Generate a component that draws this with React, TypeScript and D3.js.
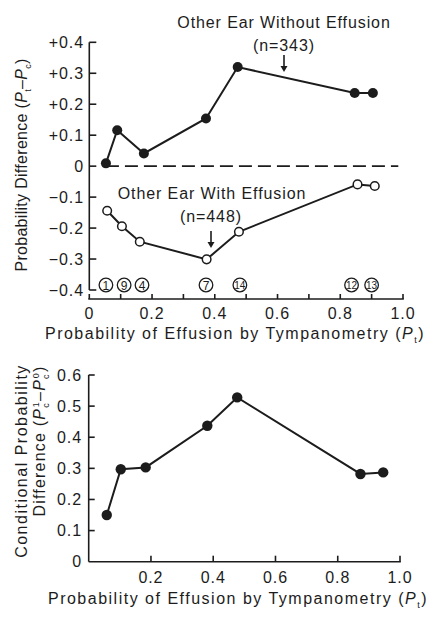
import React from 'react';
import * as d3 from 'd3';

// Top panel: probability difference (Pt - Pc) by tympanometry probability
const withoutX = [0.053, 0.089, 0.174, 0.372, 0.473, 0.846, 0.904];
const withoutY = [0.009, 0.116, 0.041, 0.154, 0.32, 0.236, 0.236];
const withX = [0.057, 0.104, 0.161, 0.374, 0.477, 0.855, 0.91];
const withY = [-0.144, -0.194, -0.244, -0.301, -0.212, -0.059, -0.064];

// Study numbers circled along the bottom of the top panel
const studyIds = ['1', '9', '4', '7', '14', '12', '13'];
const studyX = [0.053, 0.111, 0.168, 0.372, 0.48, 0.836, 0.9];

// Bottom panel: conditional probability difference
const condX = [0.058, 0.103, 0.183, 0.381, 0.477, 0.873, 0.946];
const condY = [0.15, 0.297, 0.303, 0.437, 0.528, 0.282, 0.287];

const topYTicks = [0.4, 0.3, 0.2, 0.1, 0, -0.1, -0.2, -0.3, -0.4];
const topYLabels = ['+0.4', '+0.3', '+0.2', '+0.1', '0', '\u22120.1', '\u22120.2', '\u22120.3', '\u22120.4'];
const topXLabels = ['0', '0.2', '0.4', '0.6', '0.8', '1.0'];
const botYLabels = ['0', '0.1', '0.2', '0.3', '0.4', '0.5', '0.6'];
const botXLabels = ['0.2', '0.4', '0.6', '0.8', '1.0'];

const ink = '#1c1c1c';
const font = '"Liberation Sans", Arial, sans-serif';
const fs = 16;
const ls = 0.9;

const App = () => {
  const xTop = d3.scaleLinear().domain([0, 1]).range([89.3, 403]);
  const yTop = d3.scaleLinear().domain([-0.4, 0.4]).range([290, 42.3]);
  const xBot = d3.scaleLinear().domain([0, 1]).range([88.7, 400]);
  const yBot = d3.scaleLinear().domain([0, 0.6]).range([561.7, 375]);
  const topAxisY = 299;

  const lineTop = d3.line<number>().x((d, i) => xTop(withoutX[i])).y(d => yTop(d));
  const lineWith = d3.line<number>().x((d, i) => xTop(withX[i])).y(d => yTop(d));
  const lineBot = d3.line<number>().x((d, i) => xBot(condX[i])).y(d => yBot(d));

  const xTicksTop = d3.range(0, 11).map(i => i / 10);
  const xTicksBot = [0.2, 0.4, 0.6, 0.8, 1.0];

  return (
    <svg width={427} height={617} style={{ position: 'absolute', left: 0, top: 0, background: '#fff' }}
      fontFamily={font} fill={ink} letterSpacing={ls}>
      {/* ---------- top panel axes ---------- */}
      <line x1={xTop(0)} x2={xTop(0)} y1={yTop(0.4)} y2={yTop(-0.4)} stroke={ink} strokeWidth={1.6} />
      {topYTicks.map((t, i) => (
        <g key={'ty' + i}>
          <line x1={xTop(0)} x2={xTop(0) + 7} y1={yTop(t)} y2={yTop(t)} stroke={ink} strokeWidth={1.6} />
          <text x={84} y={yTop(t)} dy="0.36em" textAnchor="end" fontSize={fs}>{topYLabels[i]}</text>
        </g>
      ))}
      <line x1={xTop(0) - 1} x2={xTop(1) + 0.8} y1={topAxisY} y2={topAxisY} stroke={ink} strokeWidth={1.6} />
      {xTicksTop.map((t, i) => (
        <line key={'tx' + i} x1={xTop(t)} x2={xTop(t)} y1={topAxisY} y2={topAxisY - 5} stroke={ink} strokeWidth={1.6} />
      ))}
      {topXLabels.map((l, i) => (
        <text key={'txl' + i} x={xTop(i * 0.2)} y={313} dy="0.36em" textAnchor="middle" fontSize={fs}>{l}</text>
      ))}
      <text x={235} y={333} dy="0.36em" textAnchor="middle" fontSize={fs} letterSpacing={1.5}>
        Probability of Effusion by Tympanometry (<tspan fontStyle="italic">P</tspan>
        <tspan fontSize={9} dy={4}>t</tspan><tspan dy={-4}>)</tspan>
      </text>
      <text transform="translate(21,165) rotate(-90)" textAnchor="middle" dy="0.36em" fontSize={fs} letterSpacing={0.3}>
        Probability Difference (<tspan fontStyle="italic">P</tspan>
        <tspan fontSize={9} dy={4}>t</tspan><tspan dy={-4}>{'\u2013'}</tspan>
        <tspan fontStyle="italic">P</tspan><tspan fontSize={9} dy={4}>c</tspan><tspan dy={-4}>)</tspan>
      </text>

      {/* zero reference line */}
      <line x1={xTop(withoutX[0])} x2={xTop(0.985)} y1={yTop(0)} y2={yTop(0)} stroke={ink} strokeWidth={1.8}
        strokeDasharray="13 6" />

      {/* series lines */}
      <path d={lineTop(withoutY) || ''} fill="none" stroke={ink} strokeWidth={2} />
      <path d={lineWith(withY) || ''} fill="none" stroke={ink} strokeWidth={2} />
      {withoutY.map((v, i) => (
        <circle key={'f' + i} cx={xTop(withoutX[i])} cy={yTop(v)} r={5} fill={ink} />
      ))}
      {withY.map((v, i) => (
        <circle key={'o' + i} cx={xTop(withX[i])} cy={yTop(v)} r={4.3} fill="#fff" stroke={ink} strokeWidth={1.5} />
      ))}

      {/* study number markers */}
      {studyIds.map((s, i) => (
        <g key={'s' + i}>
          <circle cx={xTop(studyX[i])} cy={285} r={6.8} fill="#fff" stroke={ink} strokeWidth={1.3} />
          <text x={xTop(studyX[i])} y={285.5} dy="0.36em" textAnchor="middle" letterSpacing={0}
            fontSize={s.length > 1 ? 10 : 12}>{s}</text>
        </g>
      ))}

      {/* annotations */}
      <text x={284} y={22} dy="0.36em" textAnchor="middle" fontSize={fs}>Other Ear Without Effusion</text>
      <text x={284} y={45} dy="0.36em" textAnchor="middle" fontSize={fs}>(n=343)</text>
      <line x1={284} x2={284} y1={55} y2={70} stroke={ink} strokeWidth={1.6} />
      <path d="M280.5,66 L284,72 L287.5,66 Z" fill={ink} />
      <text x={212} y={193} dy="0.36em" textAnchor="middle" fontSize={fs}>Other Ear With Effusion</text>
      <text x={211} y={216} dy="0.36em" textAnchor="middle" fontSize={fs}>(n=448)</text>
      <line x1={211} x2={211} y1={231} y2={246} stroke={ink} strokeWidth={1.6} />
      <path d="M207.5,242 L211,248 L214.5,242 Z" fill={ink} />

      {/* ---------- bottom panel ---------- */}
      <line x1={xBot(0)} x2={xBot(0)} y1={yBot(0.6)} y2={yBot(0)} stroke={ink} strokeWidth={1.6} />
      <line x1={xBot(0)} x2={xBot(1) + 0.8} y1={yBot(0)} y2={yBot(0)} stroke={ink} strokeWidth={1.6} />
      {botYLabels.map((l, i) => (
        <g key={'by' + i}>
          {i > 0 && <line x1={xBot(0)} x2={xBot(0) + 6} y1={yBot(i / 10)} y2={yBot(i / 10)} stroke={ink} strokeWidth={1.6} />}
          <text x={82} y={yBot(i / 10)} dy="0.36em" textAnchor="end" fontSize={fs}>{l}</text>
        </g>
      ))}
      {xTicksBot.map((t, i) => (
        <g key={'bx' + i}>
          <line x1={xBot(t)} x2={xBot(t)} y1={yBot(0)} y2={yBot(0) - 6} stroke={ink} strokeWidth={1.6} />
          <text x={xBot(t)} y={577} dy="0.36em" textAnchor="middle" fontSize={fs}>{botXLabels[i]}</text>
        </g>
      ))}
      <text x={238} y={598} dy="0.36em" textAnchor="middle" fontSize={fs} letterSpacing={1.5}>
        Probability of Effusion by Tympanometry (<tspan fontStyle="italic">P</tspan>
        <tspan fontSize={9} dy={4}>t</tspan><tspan dy={-4}>)</tspan>
      </text>
      <text transform="translate(21,461) rotate(-90)" textAnchor="middle" dy="0.36em" fontSize={fs} letterSpacing={1.5}>
        Conditional Probability
      </text>
      <text transform="translate(39,441) rotate(-90)" textAnchor="middle" dy="0.36em" fontSize={fs} letterSpacing={1.2}>
        Difference (<tspan fontStyle="italic">P</tspan>
        <tspan fontSize={9} dy={4}>c</tspan><tspan fontSize={9} dx={-5} dy={-10}>1</tspan>
        <tspan dy={6}>{'\u2013'}</tspan>
        <tspan fontStyle="italic">P</tspan>
        <tspan fontSize={9} dy={4}>c</tspan><tspan fontSize={9} dx={-5} dy={-10}>0</tspan>
        <tspan dy={6}>)</tspan>
      </text>

      <path d={lineBot(condY) || ''} fill="none" stroke={ink} strokeWidth={2} />
      {condY.map((v, i) => (
        <circle key={'c' + i} cx={xBot(condX[i])} cy={yBot(v)} r={5.2} fill={ink} />
      ))}
    </svg>
  );
};

export default App;
